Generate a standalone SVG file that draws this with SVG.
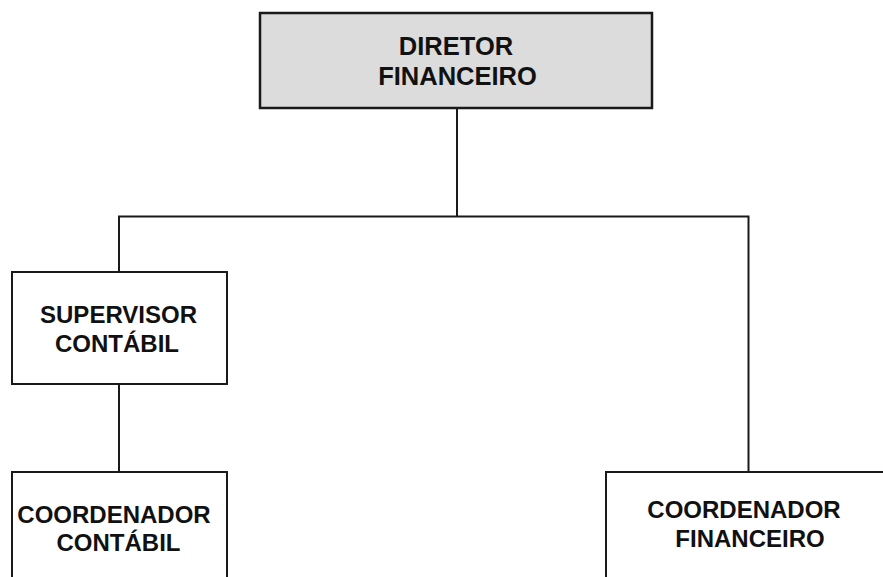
<svg xmlns="http://www.w3.org/2000/svg" width="883" height="577" viewBox="0 0 883 577">
<style>
.box{fill:#ffffff;stroke:#1a1a1a;stroke-width:2}
.head{fill:#dcdcdc;stroke:#1a1a1a;stroke-width:2.5}
.lbl{font-family:"Liberation Sans",Arial,sans-serif;font-weight:bold;font-size:24px;fill:#111;text-anchor:middle}
.conn{fill:none;stroke:#1a1a1a;stroke-width:2}
</style>
<rect width="883" height="577" fill="#ffffff"/>
<g id="connectors">
<path class="conn" d="M457,108 V216"/>
<path class="conn" d="M119,272 V216.5 H748.5 V472"/>
<path class="conn" d="M119,384 V472"/>
</g>
<g id="diretor">
<rect class="head" x="260" y="13" width="392" height="95"/>
<text class="lbl" x="456" y="55" style="font-size:25.5px">DIRETOR</text>
<text class="lbl" x="457.5" y="85" style="font-size:25.5px">FINANCEIRO</text>
</g>
<g id="supervisor">
<rect class="box" x="12" y="272" width="215" height="112"/>
<text class="lbl" x="118.5" y="323">SUPERVISOR</text>
<text class="lbl" x="117" y="352">CONTÁBIL</text>
</g>
<g id="coord-contabil">
<rect class="box" x="12" y="472" width="215" height="120"/>
<text class="lbl" x="114" y="523">COORDENADOR</text>
<text class="lbl" x="118.5" y="551">CONTÁBIL</text>
</g>
<g id="coord-financeiro">
<rect class="box" x="606" y="472" width="290" height="120"/>
<text class="lbl" x="744" y="518">COORDENADOR</text>
<text class="lbl" x="750" y="547">FINANCEIRO</text>
</g>
</svg>
